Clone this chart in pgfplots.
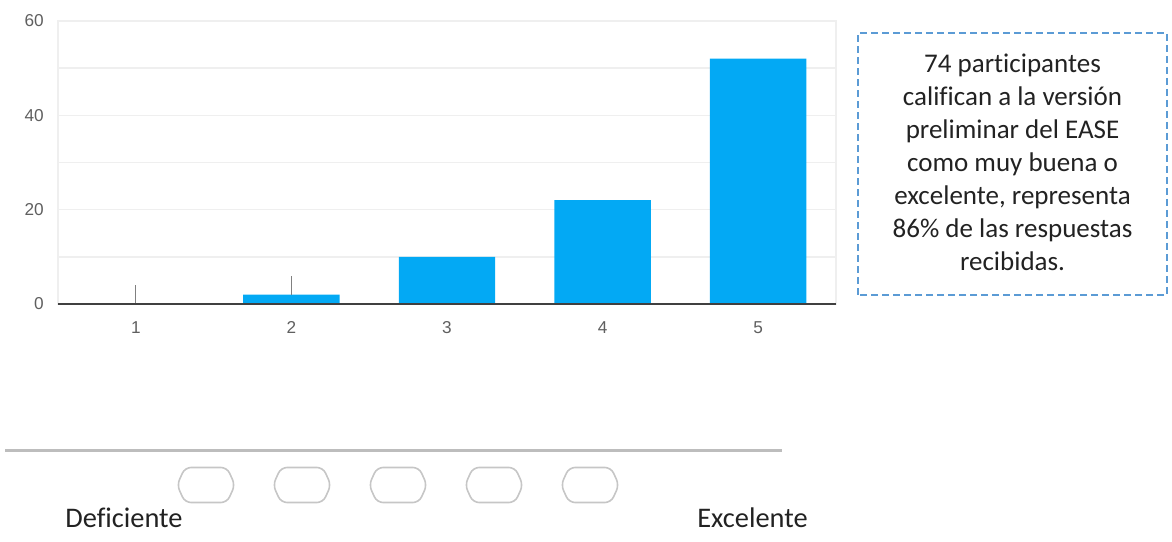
\documentclass[border=0pt]{standalone}
\usepackage{pgfplots}
\pgfplotsset{compat=1.18}
\usepackage{fontspec}
\setmainfont{Carlito}[Ligatures=NoCommon]
\newfontfamily\tickfont{Liberation Sans}

\definecolor{barblue}{HTML}{03A9F4}
\definecolor{gridgray}{HTML}{EFEFEF}
\definecolor{ticktext}{HTML}{5F5F5F}
\definecolor{boxblue}{HTML}{5B9BD5}
\definecolor{scalegray}{HTML}{BDBDBD}
\definecolor{ovalgray}{HTML}{C6C6C6}
\definecolor{labeltext}{HTML}{222222}

\begin{document}
\begin{tikzpicture}
\path[use as bounding box] (0pt,0pt) rectangle (586pt,270.5pt);

\begin{axis}[
  at={(29pt,118.5pt)}, anchor=south west,
  width=389pt, height=141.5pt, scale only axis,
  xmin=0.5, xmax=5.5, ymin=0, ymax=60,
  xtick={1,2,3,4,5},
  ytick={0,20,40,60},
  minor ytick={10,30,50},
  ymajorgrids, yminorgrids,
  major grid style={gridgray, line width=0.8pt},
  minor grid style={gridgray, line width=0.8pt},
  major tick length=0pt, minor tick length=0pt,
  axis line style={gridgray, line width=0.6pt},
  tick label style={font=\tickfont\fontsize{8.6}{9}\selectfont, text=ticktext},
  /pgf/number format/assume math mode=true,
  yticklabel style={xshift=-3.6pt},
  xticklabel style={yshift=-5.2pt},
  clip=false,
]
  \addplot[ybar, bar width=0.62, fill=barblue, draw=none]
    coordinates {(1,0) (2,2) (3,10) (4,22) (5,52)};
  % thin markers above the first two columns
  \addplot[gray, line width=0.6pt] coordinates {(1,0) (1,4)};
  \addplot[gray, line width=0.6pt] coordinates {(2,2) (2,6)};
  % baseline
  \addplot[black!75, line width=1pt] coordinates {(0.5,0) (5.5,0)};
\end{axis}

% note box
\draw[boxblue, line width=0.9pt, dash pattern=on 3.5pt off 2pt]
  (429pt,123pt) rectangle (583.5pt,254pt);
\node[align=center, text=labeltext, font=\fontsize{13.5}{16.5}\selectfont]
  at (506.25pt,189.25pt)
  {74 participantes\\califican a la versión\\preliminar del EASE\\como muy buena o\\excelente, representa\\86\% de las respuestas\\recibidas.};

% rating scale below
\draw[scalegray, line width=1.5pt] (2.5pt,45.5pt) -- (391pt,45.5pt);
\foreach \cx in {103,151,199,247,295}{
  \draw[ovalgray, line width=0.8pt, rounded corners=3pt]
    (\cx pt-14.5pt,28pt) -- (\cx pt-10.5pt,36.75pt) -- (\cx pt+10.5pt,36.75pt)
    -- (\cx pt+14.5pt,28pt) -- (\cx pt+10.5pt,19.25pt) -- (\cx pt-10.5pt,19.25pt) -- cycle;
}
\node[anchor=west, inner sep=0pt, text=labeltext, font=\fontsize{14.2}{16}\selectfont]
  at (32.5pt,11.5pt) {Deficiente};
\node[inner sep=0pt, text=labeltext, font=\fontsize{14.2}{16}\selectfont]
  at (376.25pt,11.5pt) {Excelente};
\end{tikzpicture}
\end{document}
